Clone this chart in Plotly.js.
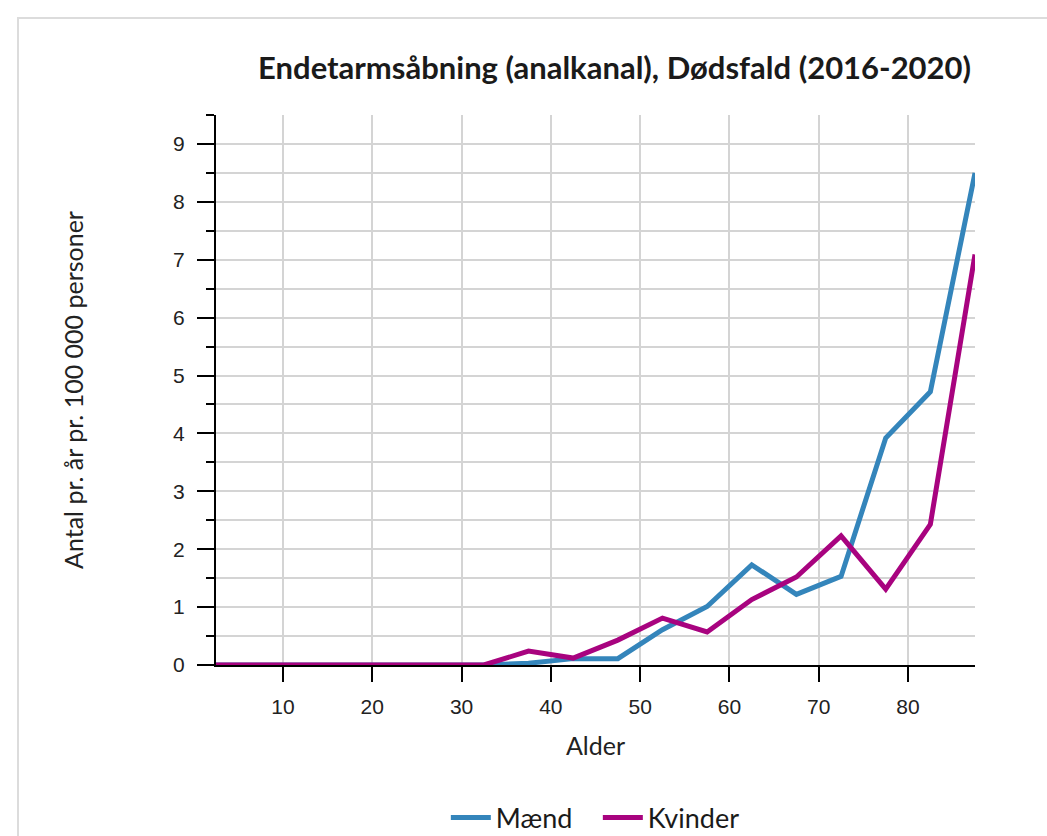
<!DOCTYPE html>
<html>
<head>
<meta charset="utf-8">
<script src="https://cdn.plot.ly/plotly-3.0.1.min.js"></script>
<style>
  html, body { margin: 0; padding: 0; background: #fff; }
  #wrap { position: relative; width: 1047px; height: 836px; overflow: hidden; }
  #chart { position: absolute; left: 0; top: 0; width: 1047px; height: 836px; }
  #frame { position: absolute; left: 17px; top: 17px; width: 1100px; height: 900px;
           border-left: 2px solid #dcdcdc; border-top: 2px solid #dcdcdc; pointer-events: none; }
</style>
</head>
<body>
<div id="wrap">
  <div id="chart"></div>
  <div id="frame"></div>
</div>
<script>
// Age group midpoints
const ages = [2.5, 7.5, 12.5, 17.5, 22.5, 27.5, 32.5, 37.5, 42.5, 47.5, 52.5, 57.5, 62.5, 67.5, 72.5, 77.5, 82.5, 87.5];
// Deaths per year per 100 000 persons
const maend   = [0, 0, 0, 0, 0, 0, 0, 0.03, 0.11, 0.11, 0.61, 1.01, 1.73, 1.22, 1.53, 3.92, 4.72, 8.5];
const kvinder = [0, 0, 0, 0, 0, 0, 0, 0.24, 0.12, 0.43, 0.81, 0.57, 1.13, 1.52, 2.23, 1.31, 2.43, 7.09];
const seriesNames = ["Mænd", "Kvinder"];
const xTicks = [10, 20, 30, 40, 50, 60, 70, 80];
const yTicks = [0, 1, 2, 3, 4, 5, 6, 7, 8, 9];

const titleText = "Endetarmsåbning (analkanal), Dødsfald (2016-2020)";
const xTitle = "Alder";
const yTitle = "Antal pr. år pr. 100 000 personer";

const labelFont = "Lato, 'Noto Sans', sans-serif";
const tickFontFam = "'Liberation Sans', Arial, sans-serif";

const traces = [
  { x: ages, y: maend, name: seriesNames[0], type: "scatter", mode: "lines",
    line: { color: "#3485BB", width: 5 } },
  { x: ages, y: kvinder, name: seriesNames[1], type: "scatter", mode: "lines",
    line: { color: "#A8037F", width: 5 } }
];

const layout = {
  width: 1047, height: 836,
  margin: { l: 216, r: 72, t: 115, b: 171 },
  paper_bgcolor: "rgba(0,0,0,0)",
  plot_bgcolor: "#fff",
  showlegend: true,
  hovermode: false,
  title: {
    text: "<b>" + titleText + "</b>",
    font: { family: labelFont, size: 31, color: "#1a1a1a" },
    x: 0.587, xref: "container", xanchor: "center",
    y: 0.919, yref: "container", yanchor: "middle"
  },
  xaxis: {
    range: [2.5, 87.5],
    tickvals: xTicks,
    ticks: "outside", ticklen: 15, tickwidth: 2, tickcolor: "#000",
    ticklabelstandoff: 7,
    showline: true, linecolor: "#000", linewidth: 2,
    showgrid: true, gridcolor: "#d4d4d4", gridwidth: 2,
    zeroline: false,
    tickfont: { family: tickFontFam, size: 21, color: "#222" },
    title: { text: xTitle, font: { family: labelFont, size: 25, color: "#222" }, standoff: 20 }
  },
  yaxis: {
    range: [0, 9.5],
    tickvals: yTicks,
    ticks: "outside", ticklen: 17, tickwidth: 2, tickcolor: "#000",
    ticklabelstandoff: 8,
    showline: true, linecolor: "#000", linewidth: 2,
    showgrid: true, gridcolor: "#d4d4d4", gridwidth: 2,
    zeroline: false,
    minor: { dtick: 0.5, tick0: 0, ticks: "outside", ticklen: 8, tickwidth: 2, tickcolor: "#000",
             showgrid: true, gridcolor: "#d4d4d4", gridwidth: 2 },
    tickfont: { family: tickFontFam, size: 21, color: "#222" },
    title: { text: yTitle, font: { family: labelFont, size: 25, color: "#222" }, standoff: 82 }
  },
  legend: {
    orientation: "h",
    x: 0.571, xanchor: "center", xref: "container",
    y: 0.0215, yanchor: "middle", yref: "container",
    font: { family: labelFont, size: 27, color: "#1a1a1a" },
    itemwidth: 40,
    entrywidth: 97,
    traceorder: "normal"
  }
};

Plotly.newPlot("chart", traces, layout, { displayModeBar: false, staticPlot: true });
</script>
</body>
</html>
